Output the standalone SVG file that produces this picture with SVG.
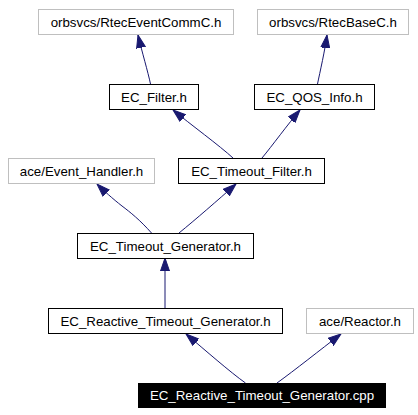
<svg xmlns="http://www.w3.org/2000/svg" width="418" height="415" viewBox="0 0 418 415">
<style>
.n rect{fill:#fff;stroke:#000;stroke-width:1}
.g rect{fill:#fff;stroke:#bfbfbf;stroke-width:1}
.m rect{fill:#000;stroke:#000;stroke-width:1}
text{font-family:"Liberation Sans",Arial,sans-serif;font-size:13.3px;text-anchor:middle;fill:#000}
.m text{fill:#fff}
.e path{fill:none;stroke:#191970;stroke-width:1;marker-end:url(#ah)}
</style>
<defs>
<marker id="ah" markerUnits="userSpaceOnUse" markerWidth="14" markerHeight="10" refX="13" refY="5" orient="auto">
<path d="M0,0.5 L13,5 L0,9.5 Z" fill="#191970" stroke="#191970" stroke-width="1"/>
</marker>
</defs>
<rect width="418" height="415" fill="#fff"/>
<g id="edges" class="e">
<path d="M150.5,84 C148,72 142,52 138,35"/>
<path d="M317.5,84 C320,72 325,50 327,35"/>
<path d="M233,158 C220,146 190,124 173,110"/>
<path d="M262,158 C272,146 288,124 300,110"/>
<path d="M151.5,233 C140,220 130,212 122,206 C113,199 103,190 97,184"/>
<path d="M179,233 C195,220 218,200 236,184"/>
<path d="M165,308 L165,258"/>
<path d="M245.5,383 C230,372 205,350 186,334"/>
<path d="M277,383 C295,370 320,350 341,334"/>
</g>
<g id="n_rtec_eventcomm" class="g"><rect x="38.5" y="9.5" width="195" height="25"/><text x="136" y="26.5">orbsvcs/RtecEventCommC.h</text></g>
<g id="n_rtec_base" class="g"><rect x="257.5" y="9.5" width="151" height="25"/><text x="333" y="26.5">orbsvcs/RtecBaseC.h</text></g>
<g id="n_ec_filter" class="n"><rect x="109.5" y="84.5" width="89" height="25"/><text x="154" y="101.5">EC_Filter.h</text></g>
<g id="n_ec_qos_info" class="n"><rect x="254.5" y="84.5" width="120" height="25"/><text x="314.5" y="101.5">EC_QOS_Info.h</text></g>
<g id="n_event_handler" class="g"><rect x="8.5" y="158.5" width="146" height="25"/><text x="81.5" y="175.5">ace/Event_Handler.h</text></g>
<g id="n_ec_timeout_filter" class="n"><rect x="178.5" y="158.5" width="146" height="25"/><text x="251.5" y="175.5">EC_Timeout_Filter.h</text></g>
<g id="n_ec_timeout_generator" class="n"><rect x="77.5" y="233.5" width="176" height="25"/><text x="165.5" y="250.5">EC_Timeout_Generator.h</text></g>
<g id="n_ec_reactive_h" class="n"><rect x="48.5" y="308.5" width="234" height="25"/><text x="165.5" y="325.5">EC_Reactive_Timeout_Generator.h</text></g>
<g id="n_reactor" class="g"><rect x="306.5" y="308.5" width="107" height="25"/><text x="360" y="325.5">ace/Reactor.h</text></g>
<g id="n_ec_reactive_cpp" class="m"><rect x="138.5" y="383.5" width="247" height="24"/><text x="262" y="400">EC_Reactive_Timeout_Generator.cpp</text></g>
</svg>
